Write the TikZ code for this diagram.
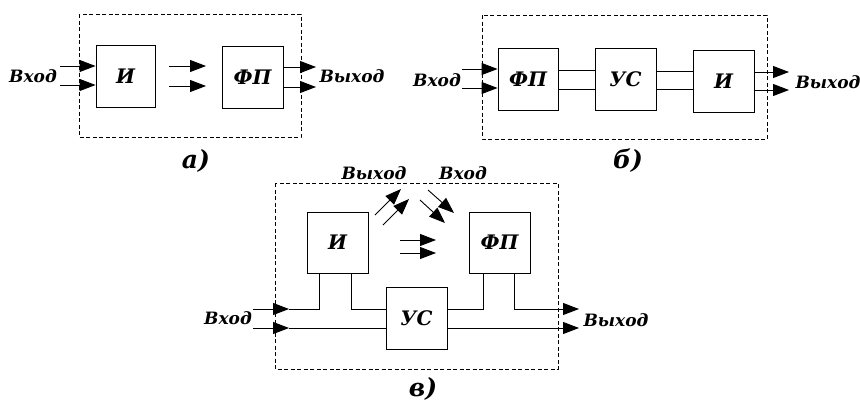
\documentclass[tikz,border=0pt]{standalone}
\usepackage{fontspec}
\setmainfont{DejaVu Serif}
\usetikzlibrary{arrows.meta,calc}
\tikzset{
  blk/.style={draw, line width=0.9pt, inner sep=0pt, font=\fontsize{20}{20}\selectfont\bfseries\itshape},
  wire/.style={line width=0.9pt},
  arr/.style={line width=0.9pt, -{Triangle[length=16pt,width=12pt]}},
  frame/.style={line width=0.8pt, dash pattern=on 4pt off 2.5pt},
  lbl/.style={inner sep=0pt, font=\fontsize{17}{17}\selectfont\bfseries\itshape},
  captxt/.style={inner sep=0pt, font=\fontsize{25}{25}\selectfont\bfseries\itshape}
}
\begin{document}
\begin{tikzpicture}[x=1pt,y=-1pt]
\useasboundingbox (0,0) rectangle (860,402);
% ---------- a)
\draw[frame] (79,14) rectangle (301,137);
\node[blk, minimum width=59pt, minimum height=62pt] (aI) at (125.5,76) {И};
\node[blk, minimum width=61pt, minimum height=62pt] (aF) at (252.5,77) {ФП};
\coordinate (ai1) at (60,66); \coordinate (ai2) at (60,85);
\draw[arr] (ai1) -- (ai1 -| aI.west);
\draw[arr] (ai2) -- (ai2 -| aI.west);
\coordinate (am1) at (169,66); \coordinate (am1e) at (206,66);
\coordinate (am2) at (169,86); \coordinate (am2e) at (206,86);
\draw[arr] (am1) -- (am1e);
\draw[arr] (am2) -- (am2e);
\coordinate (ao1) at (316,67); \coordinate (ao2) at (316,87);
\draw[arr] (ao1 -| aF.east) -- (ao1);
\draw[arr] (ao2 -| aF.east) -- (ao2);
\node[lbl] (ain) at (33,76) {Вход};
\node[lbl] (aout) at (352,76) {Выход};
\node[captxt] (acap) at (196,161) {а)};
% ---------- b)
\draw[frame] (482,15) rectangle (767,139);
\node[blk, minimum width=60pt, minimum height=62pt] (bF) at (528,79) {ФП};
\node[blk, minimum width=61pt, minimum height=62pt] (bU) at (625.5,79) {УС};
\node[blk, minimum width=61pt, minimum height=62pt] (bI) at (723.5,81) {И};
\coordinate (bi1) at (462,69); \coordinate (bi2) at (462,88);
\draw[arr] (bi1) -- (bi1 -| bF.west);
\draw[arr] (bi2) -- (bi2 -| bF.west);
\coordinate (bl1) at (0,70); \coordinate (bl2) at (0,89);
\draw[wire] (bl1 -| bF.east) -- (bl1 -| bU.west);
\draw[wire] (bl2 -| bF.east) -- (bl2 -| bU.west);
\coordinate (bm1) at (0,71); \coordinate (bm2) at (0,89);
\draw[wire] (bm1 -| bU.east) -- (bm1 -| bI.west);
\draw[wire] (bm2 -| bU.east) -- (bm2 -| bI.west);
\coordinate (bo1) at (789,72); \coordinate (bo2) at (789,90);
\draw[arr] (bo1 -| bI.east) -- (bo1);
\draw[arr] (bo2 -| bI.east) -- (bo2);
\node[lbl] (bin) at (437,80) {Вход};
\node[lbl] (bout) at (828,82) {Выход};
\node[captxt] (bcap) at (628,161) {б)};
% ---------- c)
\draw[frame] (275,183) rectangle (558,369);
\node[blk, minimum width=61pt, minimum height=61pt] (cI) at (337.5,242.5) {И};
\node[blk, minimum width=61pt, minimum height=61pt] (cF) at (499.5,242.5) {ФП};
\node[blk, minimum width=61pt, minimum height=62pt] (cU) at (416.5,318) {УС};
\coordinate (ci1) at (253,309); \coordinate (ci2) at (253,328);
\coordinate (ct1) at (289,309); \coordinate (ct2) at (289,328);
\draw[arr] (ci1) -- (ct1);
\draw[arr] (ci2) -- (ct2);
\coordinate (cx1) at (319,0); \coordinate (cx2) at (351,0);
\draw[wire] (ct1) -- (ct1 -| cx1) -- (cx1 |- cI.south);
\draw[wire] (cx2 |- cI.south) -- (cx2 |- ct1) -- (ct1 -| cU.west);
\draw[wire] (ct2) -- (ct2 -| cU.west);
\coordinate (cx3) at (483,0); \coordinate (cx4) at (514,0);
\coordinate (co1) at (579,309); \coordinate (co2) at (579,328);
\draw[wire] (co1 -| cU.east) -- (co1 -| cx3) -- (cx3 |- cF.south);
\draw[arr] (cx4 |- cF.south) -- (cx4 |- co1) -- (co1);
\draw[arr] (co2 -| cU.east) -- (co2);
% free arrows
\coordinate (cd1s) at (375,215); \coordinate (cd1e) at (401,189);
\coordinate (cd2s) at (383,225); \coordinate (cd2e) at (409,199);
\draw[arr] (cd1s) -- (cd1e);
\draw[arr] (cd2s) -- (cd2e);
\coordinate (ce1s) at (428,190); \coordinate (ce1e) at (454,213);
\coordinate (ce2s) at (420,200); \coordinate (ce2e) at (445,223);
\draw[arr] (ce1s) -- (ce1e);
\draw[arr] (ce2s) -- (ce2e);
\coordinate (ch1s) at (400,240); \coordinate (ch1e) at (436,240);
\coordinate (ch2s) at (400,253); \coordinate (ch2e) at (436,253);
\draw[arr] (ch1s) -- (ch1e);
\draw[arr] (ch2s) -- (ch2e);
\node[lbl] (cin) at (228,318) {Вход};
\node[lbl] (cout) at (616,320) {Выход};
\node[lbl] (dout) at (374,173) {Выход};
\node[lbl] (din) at (463,173) {Вход};
\node[captxt] (ccap) at (423,389) {в)};
\end{tikzpicture}
\end{document}
